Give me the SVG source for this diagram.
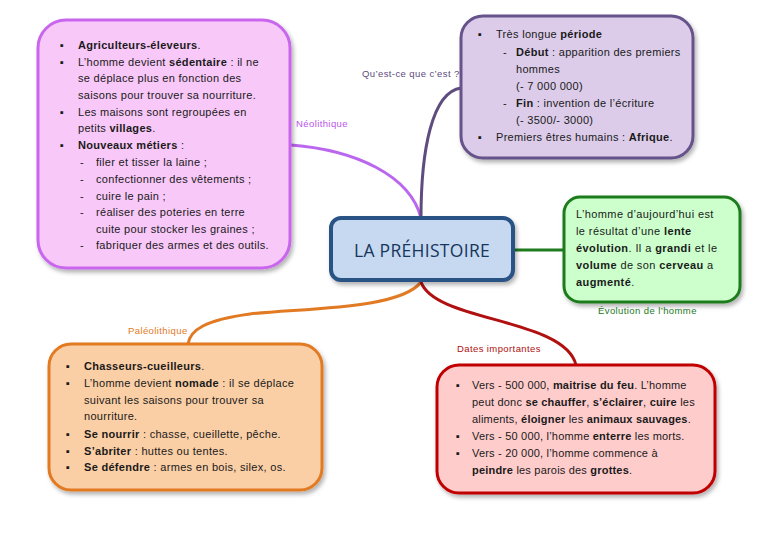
<svg xmlns="http://www.w3.org/2000/svg" width="768" height="543" viewBox="0 0 768 543">
<defs>
<filter id="sh" x="-10%" y="-10%" width="130%" height="130%">
<feDropShadow dx="2" dy="3" stdDeviation="2" flood-color="#000" flood-opacity="0.3"/>
</filter>
<style>
text{font-family:"Liberation Sans",Arial,sans-serif;font-size:11px;fill:#1a1a1a;letter-spacing:0.3px}
.b{font-weight:bold}
.lbl{font-size:9.5px;letter-spacing:0.4px}
.box{stroke-width:3;filter:url(#sh)}
.con{fill:none;stroke-width:3}
#dates text{letter-spacing:0.2px}
#evolution text{letter-spacing:0.4px}
</style>
</defs>
<rect width="768" height="543" fill="#fff"/>
<g id="connectors">
<path class="con" stroke="#BB66EE" d="M291,145 C355,150 410,175 421,218"/>
<path class="con" stroke="#5E4C7E" d="M421,218 C421,150 432,92 461,88"/>
<path class="con" stroke="#1E7B1E" d="M513,250 L563,250"/>
<path class="con" stroke="#E27A24" d="M421,282 C400,310 300,308 250,314 C205,320 190,330 188,344"/>
<path class="con" stroke="#B01010" d="M421,282 C435,322 565,318 576,365"/>
</g>
<g id="label-quest"><text class="lbl" x="362" y="77" style="fill:#5E4C7E">Qu’est-ce que c’est ?</text></g>
<g id="label-neo"><text class="lbl" x="296" y="127" style="fill:#BB55EE">Néolithique</text></g>
<g id="label-evo"><text class="lbl" x="598" y="314" style="fill:#1E7B1E">Évolution de l’homme</text></g>
<g id="label-paleo"><text class="lbl" x="128" y="334" style="fill:#E27A24">Paléolithique</text></g>
<g id="label-dates"><text class="lbl" x="457" y="352" style="fill:#B01010">Dates importantes</text></g>

<g id="neolithique">
<rect class="box" x="38" y="20" width="252" height="248" rx="28" fill="#F8C8F8" stroke="#C966EE"/>
<text x="60" y="49">▪</text><text x="78" y="49" class="b">Agriculteurs-éleveurs<tspan style="font-weight:normal">.</tspan></text>
<text x="60" y="66">▪</text><text x="78" y="66">L’homme devient <tspan class="b">sédentaire</tspan> : il ne</text>
<text x="78" y="82">se déplace plus en fonction des</text>
<text x="78" y="99">saisons pour trouver sa nourriture.</text>
<text x="60" y="116">▪</text><text x="78" y="116">Les maisons sont regroupées en</text>
<text x="78" y="132">petits <tspan class="b">villages</tspan>.</text>
<text x="60" y="149">▪</text><text x="78" y="149"><tspan class="b">Nouveaux métiers</tspan> :</text>
<text x="80" y="166">-</text><text x="96" y="166">filer et tisser la laine ;</text>
<text x="80" y="183">-</text><text x="96" y="183">confectionner des vêtements ;</text>
<text x="80" y="200">-</text><text x="96" y="200">cuire le pain ;</text>
<text x="80" y="216">-</text><text x="96" y="216">réaliser des poteries en terre</text>
<text x="96" y="233">cuite pour stocker les graines ;</text>
<text x="80" y="249">-</text><text x="96" y="249">fabriquer des armes et des outils.</text>
</g>

<g id="questce">
<rect class="box" x="461" y="16" width="232" height="142" rx="22" fill="#DCCCEA" stroke="#65538A"/>
<text x="478" y="38">▪</text><text x="496" y="38">Très longue <tspan class="b">période</tspan></text>
<text x="503" y="56">-</text><text x="516" y="56"><tspan class="b">Début</tspan> : apparition des premiers</text>
<text x="516" y="73">hommes</text>
<text x="516" y="90">(- 7 000 000)</text>
<text x="503" y="107">-</text><text x="516" y="107"><tspan class="b">Fin</tspan> : invention de l’écriture</text>
<text x="516" y="124">(- 3500/- 3000)</text>
<text x="478" y="141">▪</text><text x="496" y="141">Premiers êtres humains : <tspan class="b">Afrique</tspan>.</text>
</g>

<g id="center">
<rect class="box" x="331" y="218" width="182" height="62" rx="10" fill="#C6D9F0" stroke="#2A5285" style="stroke-width:4"/>
<text x="422" y="257" text-anchor="middle" style="font-family:'Open Sans','Liberation Sans',sans-serif;font-size:17.5px;font-weight:500;letter-spacing:0.3px;fill:#17365D">LA PRÉHISTOIRE</text>
</g>

<g id="evolution">
<rect class="box" x="564" y="197" width="176" height="105" rx="16" fill="#CCFFCC" stroke="#1E7B1E"/>
<text x="576" y="218">L’homme d’aujourd’hui est</text>
<text x="576" y="235">le résultat d’une <tspan class="b">lente</tspan></text>
<text x="576" y="252"><tspan class="b">évolution</tspan>. Il a <tspan class="b">grandi</tspan> et le</text>
<text x="576" y="269"><tspan class="b">volume</tspan> de son <tspan class="b">cerveau</tspan> a</text>
<text x="576" y="286"><tspan class="b">augmenté</tspan>.</text>
</g>

<g id="paleolithique">
<rect class="box" x="49" y="344" width="273" height="146" rx="22" fill="#FBCFA6" stroke="#E27A24"/>
<text x="66" y="370">▪</text><text x="84" y="370" class="b">Chasseurs-cueilleurs<tspan style="font-weight:normal">.</tspan></text>
<text x="66" y="387">▪</text><text x="84" y="387">L’homme devient <tspan class="b">nomade</tspan> : il se déplace</text>
<text x="84" y="404">suivant les saisons pour trouver sa</text>
<text x="84" y="420">nourriture.</text>
<text x="66" y="438">▪</text><text x="84" y="438"><tspan class="b">Se nourrir</tspan> : chasse, cueillette, pêche.</text>
<text x="66" y="455">▪</text><text x="84" y="455"><tspan class="b">S’abriter</tspan> : huttes ou tentes.</text>
<text x="66" y="471">▪</text><text x="84" y="471"><tspan class="b">Se défendre</tspan> : armes en bois, silex, os.</text>
</g>

<g id="dates">
<rect class="box" x="437" y="365" width="278" height="128" rx="22" fill="#FFCCCC" stroke="#C00000"/>
<text x="456" y="389">▪</text><text x="472" y="389">Vers - 500 000, <tspan class="b">maitrise du feu</tspan>. L’homme</text>
<text x="472" y="406">peut donc <tspan class="b">se chauffer</tspan>, <tspan class="b">s’éclairer</tspan>, <tspan class="b">cuire</tspan> les</text>
<text x="472" y="423">aliments, <tspan class="b">éloigner</tspan> les <tspan class="b">animaux sauvages</tspan>.</text>
<text x="456" y="440">▪</text><text x="472" y="440">Vers - 50 000, l’homme <tspan class="b">enterre</tspan> les morts.</text>
<text x="456" y="457">▪</text><text x="472" y="457">Vers - 20 000, l’homme commence à</text>
<text x="472" y="474"><tspan class="b">peindre</tspan> les parois des <tspan class="b">grottes</tspan>.</text>
</g>
</svg>
